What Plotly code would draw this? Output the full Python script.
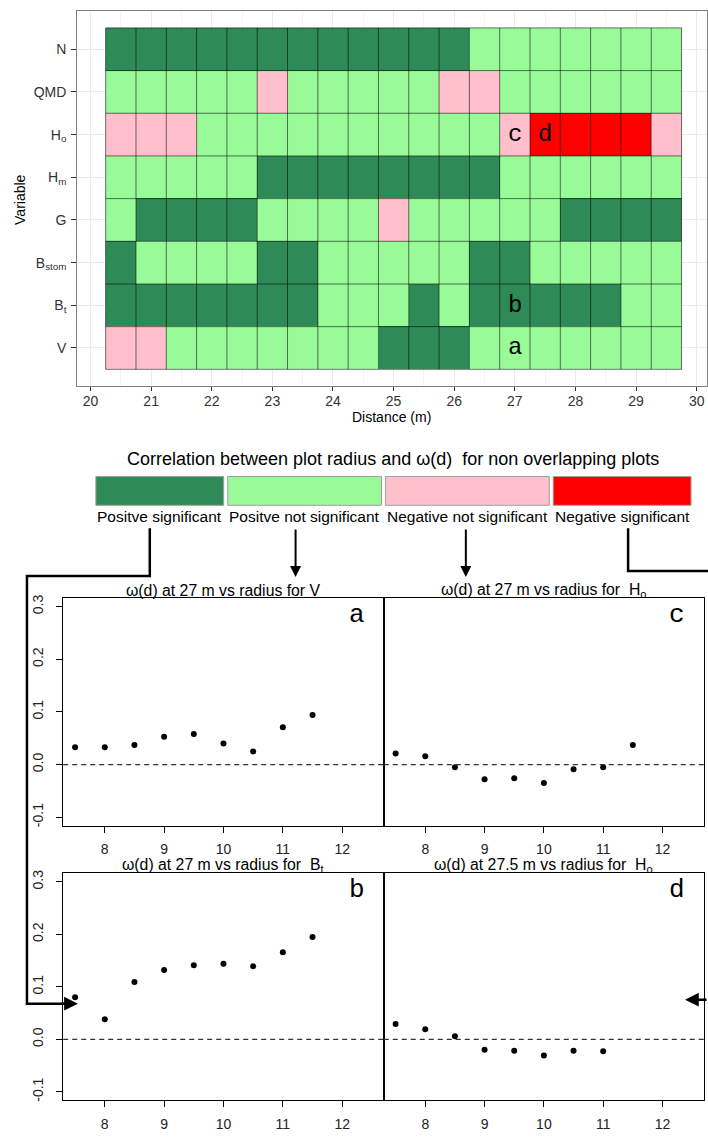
import plotly.graph_objects as go

# ---------------- data ----------------
distances = [20.5, 21.0, 21.5, 22.0, 22.5, 23.0, 23.5, 24.0, 24.5, 25.0,
             25.5, 26.0, 26.5, 27.0, 27.5, 28.0, 28.5, 29.0, 29.5]
# rows from bottom to top
variables = ["V", "Bt", "Bstom", "G", "Hm", "Ho", "QMD", "N"]
variable_labels = ["V", "B<sub>t</sub>", "B<sub>stom</sub>", "G", "H<sub>m</sub>",
                   "H<sub>o</sub>", "QMD", "N"]

# 1 = positive significant, 2 = positive not significant,
# 3 = negative not significant, 4 = negative significant
status_V = [3, 3, 2, 2, 2, 2, 2, 2, 2, 1, 1, 1, 2, 2, 2, 2, 2, 2, 2]
status_Bt = [1, 1, 1, 1, 1, 1, 1, 2, 2, 2, 1, 2, 1, 1, 1, 1, 1, 2, 2]
status_Bstom = [1, 2, 2, 2, 2, 1, 1, 2, 2, 2, 2, 2, 1, 1, 2, 2, 2, 2, 2]
status_G = [2, 1, 1, 1, 1, 2, 2, 2, 2, 3, 2, 2, 2, 2, 2, 1, 1, 1, 1]
status_Hm = [2, 2, 2, 2, 2, 1, 1, 1, 1, 1, 1, 1, 1, 2, 2, 2, 2, 2, 2]
status_Ho = [3, 3, 3, 2, 2, 2, 2, 2, 2, 2, 2, 2, 2, 3, 4, 4, 4, 4, 3]
status_QMD = [2, 2, 2, 2, 2, 3, 2, 2, 2, 2, 2, 3, 3, 2, 2, 2, 2, 2, 2]
status_N = [1, 1, 1, 1, 1, 1, 1, 1, 1, 1, 1, 1, 2, 2, 2, 2, 2, 2, 2]

class_names = ["Positve significant", "Positve not significant",
               "Negative not significant", "Negative significant"]
class_colors = ["#2E8B57", "#98FB98", "#FFC0CB", "#FF0000"]

cell_label_text = ["a", "b", "c", "d"]
cell_label_dist = [27.0, 27.0, 27.0, 27.5]
cell_label_var = ["V", "Bt", "Ho", "Ho"]

radius = [7.5, 8.0, 8.5, 9.0, 9.5, 10.0, 10.5, 11.0, 11.5]
omega_V_27 = [0.033, 0.033, 0.037, 0.053, 0.058, 0.040, 0.025, 0.071, 0.094]
omega_Ho_27 = [0.021, 0.016, -0.005, -0.028, -0.026, -0.035, -0.009, -0.005, 0.037]
omega_Bt_27 = [0.080, 0.038, 0.109, 0.132, 0.141, 0.144, 0.139, 0.166, 0.195]
radius_d = [7.5, 8.0, 8.5, 9.0, 9.5, 10.0, 10.5, 11.0]
omega_Ho_275 = [0.029, 0.019, 0.006, -0.020, -0.022, -0.031, -0.022, -0.023]

W, H = 708, 1138


def X(px):
    return px / W


def Y(py):
    return 1 - py / H


FONT = "Liberation Sans"
fig = go.Figure()

# ---------------- heatmap ----------------
z = [status_V, status_Bt, status_Bstom, status_G, status_Hm, status_Ho, status_QMD, status_N]
ypos = list(range(1, len(variables) + 1))
cs = [[0, class_colors[0]], [1 / 6, class_colors[0]],
      [1 / 6, class_colors[1]], [0.5, class_colors[1]],
      [0.5, class_colors[2]], [5 / 6, class_colors[2]],
      [5 / 6, class_colors[3]], [1, class_colors[3]]]
fig.add_trace(go.Heatmap(x=distances, y=ypos, z=z, zmin=1, zmax=4, colorscale=cs,
                         showscale=False, xaxis="x", yaxis="y", hoverinfo="skip"))

# tile borders
half = (distances[1] - distances[0]) / 2
x_edges = [d - half for d in distances] + [distances[-1] + half]
y_edges = [p - 0.5 for p in ypos] + [ypos[-1] + 0.5]
bx, by = [], []
for e in x_edges:
    bx += [e, e, None]
    by += [y_edges[0], y_edges[-1], None]
for e in y_edges:
    bx += [x_edges[0], x_edges[-1], None]
    by += [e, e, None]
fig.add_trace(go.Scatter(x=bx, y=by, mode="lines", line=dict(color="rgba(0,0,0,0.55)", width=1),
                         xaxis="x", yaxis="y", hoverinfo="skip"))


def txt(x, y, text, size, family=FONT, **kw):
    d = dict(x=x, y=y, xref="paper", yref="paper", text=text, showarrow=False,
             xanchor="center", yanchor="middle",
             font=dict(family=family, size=size, color="black"))
    d.update(kw)
    return d


annotations = []
for t, d, v in zip(cell_label_text, cell_label_dist, cell_label_var):
    annotations.append(dict(x=d, y=ypos[variables.index(v)], xref="x", yref="y", text=t,
                            xanchor="center", yanchor="middle",
                            showarrow=False, font=dict(family="Liberation Mono", size=24, color="black")))

# ---------------- scatter panels ----------------
panels = [
    ("x2", "y2", radius, omega_V_27, "ω(d) at 27 m vs radius for V", "a"),
    ("x3", "y3", radius, omega_Ho_27, "ω(d) at 27 m vs radius for  H<sub>o</sub>", "c"),
    ("x4", "y4", radius, omega_Bt_27, "ω(d) at 27 m vs radius for  B<sub>t</sub>", "b"),
    ("x5", "y5", radius_d, omega_Ho_275, "ω(d) at 27.5 m vs radius for  H<sub>o</sub>", "d"),
]
for xa, ya, xs, ys, _, _ in panels:
    fig.add_trace(go.Scatter(x=xs, y=ys, mode="markers", marker=dict(color="black", size=6),
                             xaxis=xa, yaxis=ya, hoverinfo="skip"))

shapes = []
for xa, ya, *_ in panels:
    shapes.append(dict(type="line", xref=f"{xa} domain", yref=ya, x0=0, x1=1, y0=0, y1=0,
                       line=dict(color="#333", width=1.2, dash="5px,4px")))

# panel pixel geometry
left_x = (63.3, 384.3)
right_x = (384.3, 705.0)
top_y = (597.3, 826.0)
bot_y = (874.0, 1102.0)
geo = {"x2": (left_x, top_y), "x3": (right_x, top_y), "x4": (left_x, bot_y), "x5": (right_x, bot_y)}

for xa, ya, xs, ys, title, letter in panels:
    (xl, xr), (yt, yb) = geo[xa]
    annotations.append(txt(X((xl + xr) / 2), Y(yt - 8), title, 15.8))
    annotations.append(txt(X(xr - 27), Y(yt + 17), letter, 26, family="Liberation Mono"))

# ---------------- legend ----------------
box_px = [(96, 224), (228, 382), (386, 550), (554, 692)]
for (x0, x1), col, name in zip(box_px, class_colors, class_names):
    shapes.append(dict(type="rect", xref="paper", yref="paper", x0=X(x0), x1=X(x1), y0=Y(504), y1=Y(475),
                       fillcolor=col, line=dict(color="#A0A0A0", width=1)))
    annotations.append(txt(X((x0 + x1) / 2), Y(515), name, 15.5))
annotations.append(txt(X(394), Y(457),
                       "Correlation between plot radius and ω(d)  for non overlapping plots", 18))


# connectors
def path(points):
    return "M " + " L ".join(f"{X(a)},{Y(b)}" for a, b in points)


shapes.append(dict(type="path", xref="paper", yref="paper",
                   path=path([(150, 527), (150, 575), (27, 575), (27, 1005), (66, 1005)]),
                   line=dict(color="black", width=2.5)))
shapes.append(dict(type="path", xref="paper", yref="paper",
                   path=path([(629, 527), (629, 570), (710, 570)]),
                   line=dict(color="black", width=2.5)))
for ax_px in (296, 466.5):
    annotations.append(dict(x=X(ax_px), y=Y(576), xref="paper", yref="paper", text="", showarrow=True,
                            ax=0, ay=-49, arrowhead=2, arrowsize=1.1, arrowwidth=2, arrowcolor="black"))
annotations.append(dict(x=X(78), y=Y(1005), xref="paper", yref="paper", text="", showarrow=True,
                        ax=-18, ay=0, arrowhead=2, arrowsize=1.1, arrowwidth=2.5, arrowcolor="black"))
annotations.append(dict(x=X(686), y=Y(1001), xref="paper", yref="paper", text="", showarrow=True,
                        ax=25, ay=0, arrowhead=2, arrowsize=1.1, arrowwidth=2.5, arrowcolor="black"))

# heatmap axis titles
annotations.append(txt(X(392), Y(415), "Distance (m)", 14))
annotations.append(txt(X(20), Y(196), "Variable", 14, textangle=-90))

# ---------------- layout ----------------
hm_font = dict(family=FONT, size=14, color="#333333")
layout = dict(
    width=W, height=H, margin=dict(l=0, r=0, t=0, b=0),
    paper_bgcolor="white", plot_bgcolor="white", showlegend=False,
    font=dict(family=FONT),
    xaxis=dict(domain=[X(77.3), 1.0], range=[19.78, 30.17], tickvals=list(range(20, 31)),
               ticks="outside", ticklen=4, tickcolor="#333", tickfont=hm_font, ticklabelstandoff=-2,
               showgrid=True, gridcolor="#EBEBEB", gridwidth=1,
               minor=dict(dtick=0.5, tick0=20, showgrid=True, gridcolor="#F4F4F4", ticks=""),
               showline=True, mirror=True, linecolor="#808080", linewidth=1, zeroline=False,
               anchor="y"),
    yaxis=dict(domain=[Y(384), Y(7.3)], range=[0.11, 8.89], tickvals=ypos, ticktext=variable_labels,
               ticks="outside", ticklen=5, tickcolor="#333", tickfont=hm_font, ticklabelstandoff=2,
               showgrid=True, gridcolor="#EBEBEB", gridwidth=1,
               showline=True, mirror=True, linecolor="#808080", linewidth=1, zeroline=False,
               anchor="x"),
    shapes=shapes, annotations=annotations,
)
sc_font = dict(family=FONT, size=14, color="#222")
for xa, ya, *_ in panels:
    (xl, xr), (yt, yb) = geo[xa]
    n = xa[1:]
    left_panel = xa in ("x2", "x4")
    layout[f"xaxis{n}"] = dict(domain=[X(xl), X(xr)], range=[7.30, 12.70], tickvals=[8, 9, 10, 11, 12],
                               ticks="outside", ticklen=6, tickcolor="black", tickfont=sc_font,
                               ticklabelstandoff=5, showgrid=False, zeroline=False,
                               showline=True, mirror=True, linecolor="black", linewidth=1, anchor=ya)
    layout[f"yaxis{n}"] = dict(domain=[Y(yb), Y(yt)], range=[-0.116, 0.316],
                               tickvals=[-0.1, 0.0, 0.1, 0.2, 0.3],
                               ticktext=["-0.1", "0.0", "0.1", "0.2", "0.3"],
                               ticks="outside" if left_panel else "", ticklen=6, tickcolor="black",
                               showticklabels=left_panel, tickangle=-90, tickfont=sc_font,
                               ticklabelstandoff=8, showgrid=False, zeroline=False,
                               showline=True, mirror=True, linecolor="black", linewidth=1, anchor=xa)

fig.update_layout(**layout)
fig.write_html("out.html", config={"displayModeBar": False},
               post_script="document.body.style.margin='0';document.body.style.overflow='hidden';")
